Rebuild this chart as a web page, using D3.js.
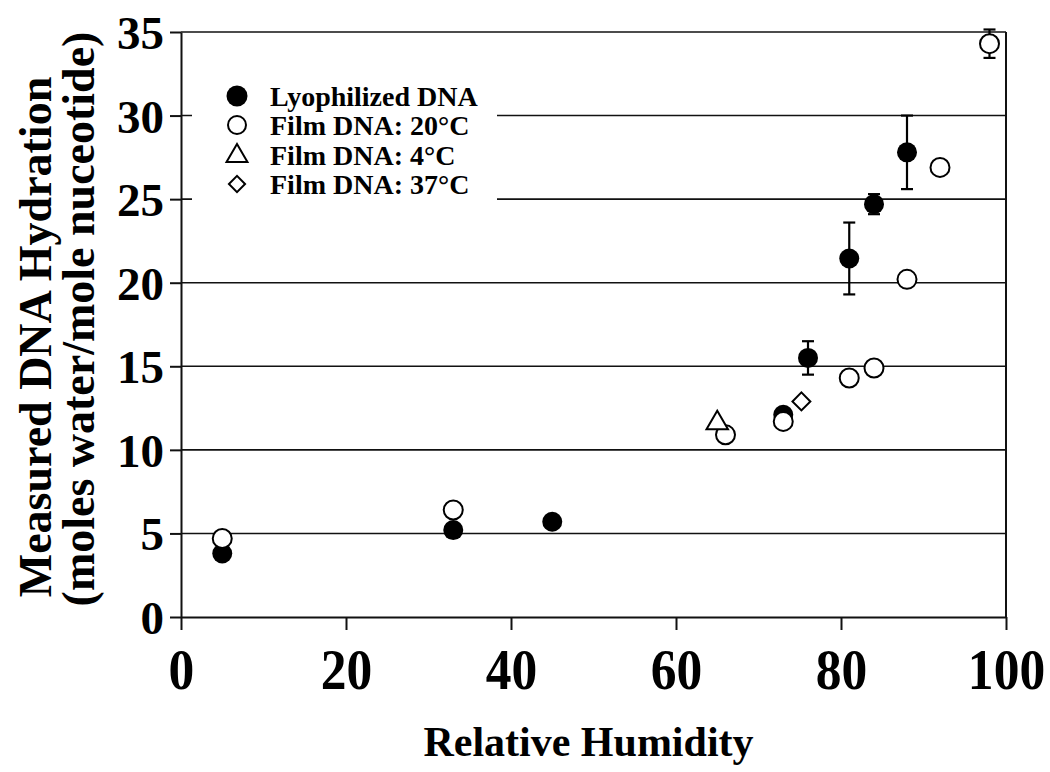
<!DOCTYPE html>
<html><head><meta charset="utf-8">
<script src="https://cdn.jsdelivr.net/npm/d3@7"></script>
<style>
html,body{margin:0;padding:0;background:#fff;}
svg text{font-family:"Liberation Serif","Times New Roman",serif;font-weight:bold;fill:#000;}
</style></head>
<body>
<svg id="chart" width="1050" height="772"></svg>
<script>
// ---- data ----
const lyoX   = [5, 33, 45, 73, 76, 81, 84, 88];
const lyoY   = [3.8, 5.2, 5.7, 12.1, 15.5, 21.45, 24.7, 27.8];
const lyoErr = [0, 0, 0, 0, 1.0, 2.15, 0.6, 2.2];
const f20X   = [5, 33, 66, 73, 81, 84, 88, 92, 98];
const f20Y   = [4.7, 6.4, 10.9, 11.7, 14.3, 14.9, 20.2, 26.9, 34.3];
const f20Err = [0, 0, 0, 0, 0, 0, 0, 0, 0.85];
const f4X  = [65];
const f4Y  = [11.6];
const f37X = [75.2];
const f37Y = [12.9];
const xTicks = [0, 20, 40, 60, 80, 100];
const yTicks = [0, 5, 10, 15, 20, 25, 30, 35];
const legendLabels = ["Lyophilized DNA", "Film DNA: 20°C", "Film DNA: 4°C", "Film DNA: 37°C"];

const svg = d3.select("#chart");
const L = 181, R = 1006, T = 32, B = 617;
const x = d3.scaleLinear().domain([0, 100]).range([L, R]);
const y = d3.scaleLinear().domain([0, 35]).range([B, T]);

// gridlines
svg.append("g").selectAll("line").data(yTicks.filter(d => d > 0)).join("line")
  .attr("x1", L).attr("x2", R).attr("y1", d => y(d)).attr("y2", d => y(d))
  .attr("stroke", "#111").attr("stroke-width", 1.6);

// right border
svg.append("line").attr("x1", R).attr("x2", R).attr("y1", T).attr("y2", B)
  .attr("stroke", "#111").attr("stroke-width", 2);

// axes
const xAxis = svg.append("g").attr("transform", `translate(0,${B})`)
  .call(d3.axisBottom(x).tickValues(xTicks).tickSize(13).tickSizeOuter(0).tickFormat(d3.format("d")));
const yAxis = svg.append("g").attr("transform", `translate(${L},0)`)
  .call(d3.axisLeft(y).tickValues(yTicks).tickSize(11).tickSizeOuter(0).tickFormat(d3.format("d")));
[xAxis, yAxis].forEach(g => {
  g.select(".domain").attr("stroke", "#111").attr("stroke-width", 2);
  g.selectAll(".tick line").attr("stroke", "#111").attr("stroke-width", 2);
});
xAxis.selectAll(".tick text").attr("font-size", 56).attr("dy", 0).attr("y", 72).attr("x", 0)
  .attr("font-family", "Liberation Serif").attr("font-weight", "bold")
  .attr("transform", "scale(0.92,1)");
yAxis.selectAll(".tick text").attr("font-size", 47).attr("x", -17).attr("dy", "0.35em")
  .attr("font-family", "Liberation Serif").attr("font-weight", "bold");

// axis titles
svg.append("text").attr("x", (L + R) / 2 - 5).attr("y", 756).attr("text-anchor", "middle")
  .attr("font-size", 42).text("Relative Humidity");
svg.append("text").attr("transform", "translate(51,337) rotate(-90)").attr("text-anchor", "middle")
  .attr("font-size", 46).text("Measured DNA Hydration");
svg.append("text").attr("transform", "translate(94,319) rotate(-90)").attr("text-anchor", "middle")
  .attr("font-size", 46).text("(moles water/mole nuceotide)");

// legend box (white, hides gridlines)
svg.append("rect").attr("x", 192).attr("y", 76).attr("width", 305).attr("height", 128).attr("fill", "#fff");
const legY = [96, 125, 155, 184];
const lg = svg.append("g");
lg.selectAll("text").data(legendLabels).join("text")
  .attr("x", 270).attr("y", (d, i) => legY[i]).attr("dy", "0.35em").attr("font-size", 28).text(d => d);
lg.append("circle").attr("cx", 237).attr("cy", legY[0]).attr("r", 10.5).attr("fill", "#000");
lg.append("circle").attr("cx", 237).attr("cy", legY[1]).attr("r", 9).attr("fill", "#fff").attr("stroke", "#000").attr("stroke-width", 2);
lg.append("path").attr("d", d3.symbol(d3.symbolTriangle, 190)()).attr("transform", `translate(237,${legY[2] + 1})`)
  .attr("fill", "#fff").attr("stroke", "#000").attr("stroke-width", 2);
lg.append("path").attr("d", d3.symbol(d3.symbolSquare, 130)()).attr("transform", `translate(237,${legY[3]}) rotate(45)`)
  .attr("fill", "#fff").attr("stroke", "#000").attr("stroke-width", 2);

// error bars
function errBars(xs, ys, es) {
  const g = svg.append("g");
  xs.forEach((xv, i) => {
    if (!es[i]) return;
    const cx = x(xv), y1 = y(ys[i] - es[i]), y2 = y(ys[i] + es[i]);
    g.append("line").attr("x1", cx).attr("x2", cx).attr("y1", y1).attr("y2", y2).attr("stroke", "#000").attr("stroke-width", 2.2);
    [y1, y2].forEach(yy => g.append("line").attr("x1", cx - 6).attr("x2", cx + 6).attr("y1", yy).attr("y2", yy).attr("stroke", "#000").attr("stroke-width", 2.2));
  });
}
errBars(lyoX, lyoY, lyoErr);
errBars(f20X, f20Y, f20Err);

// lyophilized (filled)
svg.append("g").selectAll("circle").data(lyoX).join("circle")
  .attr("cx", d => x(d)).attr("cy", (d, i) => y(lyoY[i])).attr("r", 10).attr("fill", "#000");
// film 20 (open)
svg.append("g").selectAll("circle").data(f20X).join("circle")
  .attr("cx", d => x(d)).attr("cy", (d, i) => y(f20Y[i])).attr("r", 9.5)
  .attr("fill", "#fff").attr("stroke", "#000").attr("stroke-width", 2);
// film 4 (triangle)
svg.append("g").selectAll("path").data(f4X).join("path")
  .attr("d", d3.symbol(d3.symbolTriangle, 200)())
  .attr("transform", (d, i) => `translate(${x(d)},${y(f4Y[i])})`)
  .attr("fill", "#fff").attr("stroke", "#000").attr("stroke-width", 2);
// film 37 (diamond)
svg.append("g").selectAll("path").data(f37X).join("path")
  .attr("d", d3.symbol(d3.symbolSquare, 160)())
  .attr("transform", (d, i) => `translate(${x(d)},${y(f37Y[i])}) rotate(45)`)
  .attr("fill", "#fff").attr("stroke", "#000").attr("stroke-width", 2);
</script>
</body></html>
